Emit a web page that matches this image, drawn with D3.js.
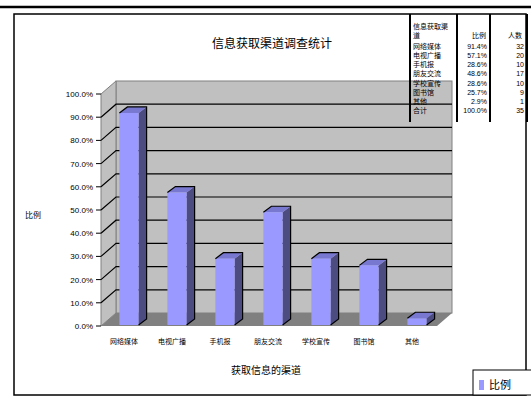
<!DOCTYPE html>
<html>
<head>
<meta charset="utf-8">
<script src="https://cdn.jsdelivr.net/npm/d3@7/dist/d3.min.js"></script>
<style>
  html, body { margin: 0; padding: 0; background: #fff; }
  svg { display: block; }
  text { font-family: "Noto Sans CJK SC", "Liberation Sans", sans-serif; fill: #000; }
</style>
</head>
<body>
<svg id="chart" width="531" height="402"></svg>
<script>
// Survey results: share of respondents choosing each information channel (multi-select)
const categories = ["网络媒体", "电视广播", "手机报", "朋友交流", "学校宣传", "图书馆", "其他"];
const percents   = [91.4, 57.1, 28.6, 48.6, 28.6, 25.7, 2.9];
const counts     = [32, 20, 10, 17, 10, 9, 1];
const totalCount = 35;
const totalLabel = "合计";
const totalPercent = "100.0%";
const yTicks     = [0, 10, 20, 30, 40, 50, 60, 70, 80, 90, 100];
const chartTitle = "信息获取渠道调查统计";
const xTitle     = "获取信息的渠道";
const yTitle     = "比例";
const seriesName = "比例";
const tableHead  = ["信息获取渠", "道", "比例", "人数"];

const svg = d3.select("#chart");

// frame
svg.append("line").attr("x1", 0).attr("x2", 531).attr("y1", 7).attr("y2", 7)
  .attr("stroke", "#000").attr("stroke-width", 2.5);
svg.append("rect").attr("x", 14).attr("y", 14).attr("width", 512).attr("height", 381)
  .attr("fill", "#fff").attr("stroke", "#000").attr("stroke-width", 1.5);

// 3-D geometry: front plane scales plus a depth offset
const depth = { dx: 15, dy: -13 };
const x = d3.scaleBand().domain(categories).range([101, 437]);
const y = d3.scaleLinear().domain([0, 100]).range([326, 94]);
const x0 = 101, x1 = 437;

const plot = svg.append("g");

// back wall
plot.append("rect")
  .attr("x", x0 + depth.dx).attr("y", y(100) + depth.dy)
  .attr("width", x1 - x0).attr("height", y(0) - y(100))
  .attr("fill", "#c0c0c0").attr("stroke", "#808080").attr("stroke-width", 1);

// side wall
plot.append("polygon")
  .attr("points", [[x0, y(100)], [x0 + depth.dx, y(100) + depth.dy], [x0 + depth.dx, y(0) + depth.dy], [x0, y(0)]].map(p => p.join(",")).join(" "))
  .attr("fill", "#c0c0c0").attr("stroke", "#808080").attr("stroke-width", 1);

// floor
plot.append("polygon")
  .attr("points", [[x0, y(0)], [x1, y(0)], [x1 + depth.dx, y(0) + depth.dy], [x0 + depth.dx, y(0) + depth.dy]].map(p => p.join(",")).join(" "))
  .attr("fill", "#808080");

// gridlines along side wall and back wall
plot.selectAll("polyline.grid").data(yTicks.filter(t => t > 0 && t < 100)).join("polyline")
  .attr("class", "grid")
  .attr("points", t => [[x0, y(t)], [x0 + depth.dx, y(t) + depth.dy], [x1 + depth.dx, y(t) + depth.dy]].map(p => p.join(",")).join(" "))
  .attr("fill", "none").attr("stroke", "#000").attr("stroke-width", 1.2);

// y axis ticks and labels
const yAxis = svg.append("g");
yAxis.selectAll("line").data(yTicks).join("line")
  .attr("x1", 96).attr("x2", x0).attr("y1", d => y(d)).attr("y2", d => y(d))
  .attr("stroke", "#000").attr("stroke-width", 1);
yAxis.selectAll("text").data(yTicks).join("text")
  .attr("x", 93).attr("y", d => y(d) + 3)
  .attr("text-anchor", "end")
  .style("font-family", "'Liberation Sans', Arial, sans-serif")
  .style("font-size", "8px")
  .text(d => d3.format(".1f")(d) + "%");

// bars: front, side and top faces
const fw = x.bandwidth() * 0.4;
const bd = { dx: 8, dy: -6 };
const fOff = { dx: 4, dy: -1 };
const bars = plot.selectAll("g.bar").data(categories.map((c, i) => ({ c, v: percents[i] }))).join("g").attr("class", "bar");
bars.each(function (d) {
  const g = d3.select(this);
  const cx = x(d.c) + x.bandwidth() / 2 + fOff.dx;
  const L = cx - fw / 2, R = cx + fw / 2;
  const B = y(0) + fOff.dy, T = y(d.v) + fOff.dy;
  g.append("polygon")
    .attr("points", [[R, B], [R + bd.dx, B + bd.dy], [R + bd.dx, T + bd.dy], [R, T]].map(p => p.join(",")).join(" "))
    .attr("fill", "#4c4c80");
  g.append("polygon")
    .attr("points", [[L, T], [R, T], [R + bd.dx, T + bd.dy], [L + bd.dx, T + bd.dy]].map(p => p.join(",")).join(" "))
    .attr("fill", "#7878d0");
  g.append("rect").attr("x", L).attr("y", T).attr("width", fw).attr("height", B - T)
    .attr("fill", "#9999ff");
  g.append("polyline")
    .attr("points", [[L, T], [L + bd.dx, T + bd.dy], [R + bd.dx, T + bd.dy], [R + bd.dx, B + bd.dy], [R, B]].map(p => p.join(",")).join(" "))
    .attr("fill", "none").attr("stroke", "#000").attr("stroke-width", 1.2);
});

// category labels
svg.append("g").selectAll("text").data(categories).join("text")
  .attr("x", d => x(d) + x.bandwidth() / 2 - 1)
  .attr("y", 344)
  .attr("text-anchor", "middle")
  .style("font-size", "7px")
  .text(d => d);

// titles
svg.append("text").attr("x", 272).attr("y", 48).attr("text-anchor", "middle")
  .style("font-size", "12px").text(chartTitle);
svg.append("text").attr("x", 266).attr("y", 374).attr("text-anchor", "middle")
  .style("font-size", "10px").text(xTitle);
svg.append("text").attr("x", 33).attr("y", 218).attr("text-anchor", "middle")
  .style("font-size", "8px").text(yTitle);

// data table, top right
const tbl = svg.append("g");
const cols = [410, 457, 490, 527];
cols.forEach(cx => tbl.append("line").attr("x1", cx).attr("x2", cx).attr("y1", 14).attr("y2", 122)
  .attr("stroke", "#000").attr("stroke-width", 2));
tbl.append("text").attr("x", 413).attr("y", 29).style("font-size", "7px").text(tableHead[0]);
tbl.append("text").attr("x", 413).attr("y", 38).style("font-size", "7px").text(tableHead[1]);
tbl.append("text").attr("x", 486).attr("y", 38).attr("text-anchor", "end").style("font-size", "7px").text(tableHead[2]);
tbl.append("text").attr("x", 522).attr("y", 38).attr("text-anchor", "end").style("font-size", "7px").text(tableHead[3]);
const rows = categories.map((c, i) => [c, d3.format(".1f")(percents[i]) + "%", counts[i]])
  .concat([[totalLabel, totalPercent, totalCount]]);
const ry = d3.scaleLinear().domain([0, 7]).range([49, 113]);
rows.forEach((r, i) => {
  tbl.append("text").attr("x", 413).attr("y", ry(i)).style("font-size", "7px").text(r[0]);
  tbl.append("text").attr("x", 487).attr("y", ry(i)).attr("text-anchor", "end")
    .style("font-family", "'Liberation Sans', Arial, sans-serif").style("font-size", "7px").text(r[1]);
  tbl.append("text").attr("x", 524).attr("y", ry(i)).attr("text-anchor", "end")
    .style("font-family", "'Liberation Sans', Arial, sans-serif").style("font-size", "7px").text(r[2]);
});

// legend
const lg = svg.append("g");
lg.append("rect").attr("x", 473).attr("y", 370).attr("width", 70).attr("height", 25)
  .attr("fill", "#fff").attr("stroke", "#000").attr("stroke-width", 1);
lg.append("rect").attr("x", 479).attr("y", 380).attr("width", 5).attr("height", 10).attr("fill", "#9999ff");
lg.append("text").attr("x", 489).attr("y", 389).style("font-size", "11px").text(seriesName);
</script>
</body>
</html>
